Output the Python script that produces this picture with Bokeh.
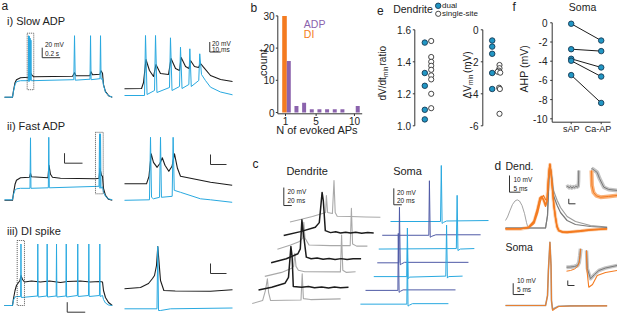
import numpy as np
from bokeh.plotting import figure
from bokeh.models import Range1d
from bokeh.core.properties import value
from bokeh.embed import file_html
from bokeh.resources import INLINE

W, H = 617, 313
FONT = value("Liberation Sans")

# ---------------- data: panel b (histogram) ----------------
b_n_adp = [1, 2, 3, 4, 5, 6, 7, 8, 10]
b_count_adp = [16, 2, 3, 1, 1, 1, 1, 1, 2]
b_n_di = [1]
b_count_di = [30]
b_yticks = [0, 10, 20, 30]
b_xticks = [1, 5, 10]

# ---------------- data: panel e ----------------
e_ratio_dual = [1.52, 1.33, 1.25, 1.10, 1.04]
e_ratio_single = [1.53, 1.43, 1.40, 1.375, 1.35, 1.315, 1.29, 1.20, 1.11]
e_dv_dual = [-0.67, -1.05, -1.5, -2.7, -3.7]
e_dv_single = [-2.2, -2.4, -2.55, -2.62, -2.68, -3.62, -3.7, -5.25]
e_dv_single_x = [2.0, 2.0, 1.9, 1.75, 2.1, 1.95, 2.05, 2.0]
e_ratio_ticks = [1.0, 1.2, 1.4, 1.6]
e_dv_ticks = [0, -2, -4, -6]

# ---------------- data: panel f ----------------
f_sap = [-0.1, -2.75, -3.75, -3.95, -5.45]
f_caap = [-1.85, -2.95, -4.65, -5.6, -8.35]
f_yticks = [0, -2, -4, -6, -8, -10]
f_cats = ["sAP", "Ca-AP"]

# ---------------- data: panel a traces (ms, mV) ----------------
ai_l_black_t = [0, 89, 100, 117, 133, 178, 267, 278, 300, 322, 756, 778, 794, 950, 961, 978, 1061, 1072, 1089, 1100, 1122, 1156, 1197]
ai_l_black_v = [-70, -70, -57, -41, -35, -31, -30, -17, -25, -29, -28, -21, -27, -27, -19, -25, -24, -17, -22, -45, -59, -67, -70]
ai_l_blue_t = [0, 89, 100, 117, 133, 178, 264, 268, 272, 276, 280, 285, 289, 294, 298, 770, 778, 786, 950, 956, 962, 1061, 1067, 1073, 1089, 1100, 1122, 1156, 1197]
ai_l_blue_v = [-70, -70, -58, -45, -39, -37, -37, 53, -39, 52, -37, 48, -36, 44, -37, -35, 53, -36, -34, 53, -35, -33, 53, -34, -33, -46, -60, -67, -70]
ai_r_black_t = [0, 15.5, 17.3, 19.5, 22.7, 26.4, 28.6, 32.7, 40, 42.3, 46.4, 50, 51.5, 55.5, 58.6, 60, 63.6, 67.3, 69.1, 71.8, 78.2, 87.3, 98.2]
ai_r_black_v = [-53, -52.6, -40.6, 5.4, -16.6, -28.6, -4.6, -22.6, -24.6, 7.4, -12.6, -16.6, 9.4, -8.6, -12.6, 3.4, -8.6, -10.6, -2.6, -10, -26.6, -34.6, -38.6]
ai_r_blue_t = [0, 18.2, 19.1, 20.5, 27.3, 28.2, 29.5, 40.9, 41.8, 43.2, 50, 50.9, 52.3, 58.5, 59.4, 60.7, 67.5, 68.4, 70, 73.6, 78.2, 87.3, 98.2]
ai_r_blue_v = [-66.6, -66.6, 53.4, -64.6, -56.6, 53.4, -60.6, -50.6, 48.8, -56.6, -48.6, 30, -52.6, -44.6, 26.8, -48.6, -36.6, 16.8, -24.6, -36.6, -50, -59.6, -65.2]

aii_l_black_t = [0, 89, 100, 117, 133, 178, 278, 289, 300, 483, 494, 511, 533, 622, 1011, 1050, 1061, 1078, 1089, 1100, 1122, 1156, 1197]
aii_l_black_v = [-71, -71, -57, -39, -31, -26, -25, -17, -24, -26, -1, -19, -25, -27, -28, -27, -7, -21, -23, -47, -61, -69, -71]
aii_l_blue_t = [0, 89, 100, 117, 133, 178, 283, 289, 294, 487, 492, 498, 1050, 1056, 1061, 1067, 1072, 1089, 1100, 1122, 1156, 1197]
aii_l_blue_v = [-70, -70, -59, -51, -48, -47, -47, 54, -47, -46, 55, -46, -43, 62, -47, 62, -47, -44, -55, -63, -68, -70]
aii_r_black_t = [0, 13.75, 15.3, 16.7, 18.1, 20.4, 22.2, 23.6, 25.3, 27.7, 29.7, 31.25, 33.1, 35, 47.5, 53.75, 67.3]
aii_r_black_v = [-38, -38, -23, 22, 5, -5, 3, 14, -1, -13, -3, 22, -7, -23, -31, -35, -41]
aii_r_blue_t = [0, 15.6, 16.25, 16.9, 18.1, 21.9, 22.5, 23.1, 29.8, 30.4, 31.1, 35, 47.5, 53.75, 67.3]
aii_r_blue_v = [-71, -70, 55, -65, -68, -65, 55, -65, -63, 55, -51, -55, -68, -70, -75]

aiii_l_black_t = [0, 89, 100, 117, 133, 156, 172, 183, 200, 222, 300, 400, 500, 622, 700, 844, 950, 1061, 1089, 1100, 1122, 1156, 1197]
aiii_l_black_v = [-70, -70, -56, -40, -30, -24, -20, -10, -18, -23, -21, -23, -21, -24, -22, -21, -23, -22, -23, -40, -54, -64, -70]
aiii_l_blue_t = [0, 89, 100, 117, 133, 179, 183, 187, 366, 370, 374, 470, 474, 478, 574, 578, 582, 682, 686, 690,
                 810, 814, 818, 933, 937, 941, 1055, 1059, 1063, 1089, 1100, 1122, 1156, 1197]
aiii_l_blue_v = [-70, -70, -59, -53, -52, -52, 53, -54, -51, 53, -53, -51, 53, -53, -51, 53, -53, -51, 53, -53,
                 -50, 53, -52, -50, 53, -52, -50, 53, -52, -50, -58, -65, -69, -70]
aiii_r_black_t = [0, 10, 15, 17.5, 18.75, 20, 20.8, 21.6, 22.5, 24.6, 31.7, 53.75, 67.5]
aiii_r_black_v = [-36.6, -34, -26, -16, -10, 10, 48, 16, -20, -40, -41, -41.4, -38.6]
aiii_r_blue_t = [0, 20.3, 20.8, 21.25, 22.5, 28.75, 67.5]
aiii_r_blue_v = [-76.6, -76.6, 48, -80, -80, -76.6, -75]

# ---------------- data: panel c traces (ms, mV rel. to start) ----------------
c_g1_t = [0, 26, 56, 79, 89, 91, 94, 106, 110, 113, 118, 151, 189, 226]
c_g1_v = [0, 2.8, 6.1, 9.1, 10.5, 29.4, 10.5, 9.4, 46, 10.5, 6.4, 6.1, 5.6, 5.3]
c_b1_t = [0, 42, 79, 89, 96, 99, 104, 117, 130, 142, 155, 167, 180, 195, 210, 225]
c_b1_v = [0, 4.4, 9.2, 14.4, 48, 39, 5.5, 3.3, 4.2, 2.8, 3.8, 2.9, 3.6, 2.7, 3.5, 3.0]
c_g2_t = [0, 33, 54, 63, 66, 69, 79, 133, 182, 185, 188, 198, 225]
c_g2_v = [0, 4.6, 8.2, 12.3, 30, 12.3, 4.6, 4, 4, 45.3, 5.7, 3.4, 3.4]
c_b2_t = [0, 38, 67, 73, 77, 80, 88, 100, 115, 130, 145, 160, 175, 190, 205, 225]
c_b2_v = [0, 4.4, 10, 15.5, 47.7, 35.5, 6.3, 4.4, 5.2, 3.8, 4.8, 3.6, 4.6, 3.7, 4.5, 4.4]
c_g3_t = [0, 42, 67, 72, 75, 78, 84, 100, 189, 192, 195, 204, 227]
c_g3_v = [0, 4.4, 8.9, 11.1, 25.5, 11.1, 6.7, 5.2, 5, 45.8, 6.7, 4.4, 5.2]
c_b3_t = [0, 33, 66, 75, 81, 84, 87, 108, 125, 140, 158, 175, 190, 205, 225]
c_b3_v = [0, 3, 7.4, 14.1, 48.2, 37.4, 3.8, 3, 3.8, 2.4, 3.2, 2.2, 3.4, 2.5, 3]
c_g4_t = [0, 26, 33, 38, 41, 46, 122, 125, 128, 146, 221]
c_g4_v = [0, 3.3, 14.4, 27.4, 12.2, 3.3, 3.9, 33, 5.5, 4.4, 5.2]

c_s1_t = [0, 125, 127, 129, 132, 140, 245]
c_s1_v = [0, 0, 68.3, -2.4, -1.2, 0.6, 1.2]
c_s2_t = [-4, 112.5, 114, 116, 120, 130, 242]
c_s2_v = [0, 0, 66.5, -2.4, -1.2, 0.6, 0.6]
c_s3_t = [4, 198, 200, 202, 208, 243]
c_s3_v = [0, 0.6, 65.5, -1.8, 0, 0.6]
c_s4_t = [17, 71, 72.5, 74.5, 78, 85, 245]
c_s4_v = [0, 0, 67.7, -2.4, -1.2, 0.6, 0.6]
c_s5_t = [25, 107.5, 109, 111, 115, 205, 207, 209, 212, 247]
c_s5_v = [0, 0, 59.2, -2.4, -0.6, 0.6, 62.8, -1.8, 0, 0.6]
c_s6_t = [21, 102, 103, 105, 108, 115, 246]
c_s6_v = [0, 0, 69.5, -2.4, -1.2, 0.6, 0.6]
c_s7_t = [25, 141, 142.5, 144, 147.5, 155, 245]
c_s7_v = [0, 0, 68, -2.4, -1.2, 0.6, 0.6]

# ---------------- data: panel d traces (ms, mV) ----------------
d_bump_t = [0, 0.91, 2.05, 3.18, 4.32, 5.32, 6.36, 7.5, 8.64, 9.55, 10.23]
d_bump_v = [4.8, 6.9, 10.8, 14.4, 16.5, 17.2, 16.5, 13.8, 9, 3.6, 0.4]
d_gray_t = [0, 18.2, 19.1, 19.7, 20.2, 20.9, 21.8, 23.5, 25, 28, 31.8, 38.6, 46.2]
d_gray1_v = [0.3, 0.3, 7.8, 28.8, 37.8, 31.8, 19.8, 13.8, 9.6, 4.8, 2.4, 1.2, 0.6]
d_gray2_v = [0.3, 0.3, 7.8, 28.8, 37.8, 32.5, 22.8, 16.8, 12.6, 7.2, 4.2, 1.8, 0.9]
d_or_t = [0, 6.8, 10.5, 12.9, 14.5, 15.7, 16.4, 17.3, 18.2, 18.9, 19.3, 19.8, 20.2, 20.7, 21.4, 22, 22.7, 23.4, 24.2, 25.9, 28, 34.1, 38.6, 46.2]
d_or1_v = [-0.3, -0.3, 0.6, 3.8, 10.8, 18, 18.9, 17.4, 14.4, 16.8, 25.8, 34.8, 38.4, 33.6, 22.8, 13.8, 6.8, 1.2, -1.2, -2.1, -2.2, -1.5, -0.8, -0.2]
d_or2_v = [-0.2, -0.3, 0.8, 4.5, 12, 18.6, 19.2, 16.8, 13.2, 16.2, 25.2, 34.2, 38.4, 33, 22.2, 13.2, 6.2, 0.8, -1.5, -2.4, -2.5, -1.8, -1, -0.3]
d_or3_v = [-0.1, 0, 0.4, 3, 9, 15.6, 18.6, 19.8, 17.4, 17, 25.8, 34.8, 38.8, 33.6, 23.4, 14.4, 7.4, 1.6, -0.9, -1.8, -2, -1.3, -0.7, 0]
d_di1_t = [0, 0.2, 0.4, 0.6, 0.8, 1.0, 1.2, 1.4, 1.6, 1.75, 1.8, 1.83]
d_di1_v = [0, 0.4, -0.3, 0.3, -0.4, 0.2, -0.2, 0.4, 0, 0.3, 2.5, 6.7]
d_di2_or_t = [0.15, 0.22, 0.45, 0.9, 1.5, 2.7, 4.0]
d_di2_or_v = [10.7, 4.7, 1.9, 0.5, 0, 0.3, 0.7]
d_di2_gr_t = [0.15, 0.3, 0.6, 1.0, 1.34, 1.99, 2.7, 4.0]
d_di2_gr_v = [11.5, 11.3, 10.7, 9.9, 7.5, 4, 3.1, 2.7]
d_soma_t = [0, 18.2, 19.1, 19.5, 20.2, 20.7, 20.9, 21.4, 22.3, 24.1, 29.5, 46.2]
d_soma_or_v = [0, 0, 8.8, 31, 56, 35.4, 4.4, -4.4, -3.1, -0.9, -0.4, -0.3]
d_soma_gr_v = [0, 0, 8.8, 31, 56, 35.4, 4.4, -3.5, -2.4, -0.7, -0.3, -0.2]
d_si1_gr_t = [0, 0.6, 1.2, 1.64, 1.87, 2.01, 2.12]
d_si1_gr_v = [1.6, 1.68, 1.88, 2.28, 3.48, 6.28, 8.96]
d_si1_or_t = [0, 0.6, 1.2, 1.64, 1.87, 1.99, 2.09]
d_si1_or_v = [0, 0.28, 0.88, 1.88, 3.28, 5.08, 8.96]
d_si2_or_t = [0, 0.07, 0.34, 0.9, 1.6, 2.84, 4.58]
d_si2_or_v = [8, 0, -6.7, -5.6, -2, -0.8, 0]
d_si2_gr_t = [0, 0.12, 0.6, 1.19, 1.84, 2.84, 4.58]
d_si2_gr_v = [8, 0.8, -3.3, -1.6, 0, 1, 2]

# ---------------- styles ----------------
BLUE = "#29a9e0"
BLACK = "#1c1c1c"
GRAYC = "#a9a9a9"
SDARK = "#4f5aa6"
ORANGE = "#f47b20"
PURPLE = "#8b63ad"
DOTF = "#2196c4"
DOTL = "#163a55"
AX = "#333333"

p = figure(width=W, height=H, x_range=Range1d(0, W), y_range=Range1d(H, 0),
           output_backend="svg", toolbar_location=None,
           x_axis_location=None, y_axis_location=None, min_border=0,
           outline_line_color=None, background_fill_color="white",
           border_fill_color="white")
p.grid.visible = False

XR, YR = {}, {}


class Panel:
    def __init__(self, name, px0, u0, sx, py0, v0, sy):
        self.n, self.px0, self.u0, self.sx = name, px0, u0, sx
        self.py0, self.v0, self.sy = py0, v0, sy
        XR[name] = Range1d(u0 - px0 / sx, u0 + (W - px0) / sx)
        YR[name] = Range1d(v0 + (py0 - H) / sy, v0 + py0 / sy)

    def ux(self, px):
        return self.u0 + (px - self.px0) / self.sx

    def uy(self, py):
        return self.v0 + (self.py0 - py) / self.sy

    @property
    def kw(self):
        return dict(x_range_name=self.n, y_range_name=self.n)


def txt(x, y, s, size, align="left", color="#222222", angle=0.0, baseline="middle", P=None):
    kw = P.kw if P is not None else {}
    xs = x if isinstance(x, list) else [x]
    ys = y if isinstance(y, list) else [y]
    ss = s if isinstance(s, list) else [s]
    p.text(x=xs, y=ys, text=ss, text_font=FONT, text_font_size=size,
           text_align=align, text_baseline=baseline, text_color=color,
           angle=angle, **kw)


def trace(P, t, v, color, width=1.0, alpha=1.0, dt=0.0, dv=0.0):
    p.line(x=[a + dt for a in t], y=[b + dv for b in v], line_color=color,
           line_width=width, line_alpha=alpha, line_join="round", **P.kw)


def scalebar(P, t, v, dt, dv, color=AX):
    p.line(x=[t, t, t + dt], y=[v + dv, v, v], line_color=color, line_width=1, **P.kw)


def dotbox(P, t0, t1, v0, v1):
    p.quad(left=[t0], right=[t1], bottom=[v0], top=[v1], fill_color=None,
           line_color="#444444", line_dash="1 1", line_width=0.9, **P.kw)


# ---------------- panel a ----------------
Pail = Panel("ail", 4, 0, 0.09, 96.7, -70, 0.5)
Pair = Panel("air", 124, 0, 1.1, 96.7, -70, 0.5)
Paiil = Panel("aiil", 4, 0, 0.09, 199.3, -70, 0.5)
Paiir = Panel("aiir", 124, 0, 1.6, 199.3, -70, 0.5)
Paiiil = Panel("aiiil", 4, 0, 0.09, 305, -70, 0.5)
Paiiir = Panel("aiiir", 124, 0, 1.6, 305, -70, 0.5)

for P, tb, vb, tl, vl in [
    (Pail, ai_l_black_t, ai_l_black_v, ai_l_blue_t, ai_l_blue_v),
    (Pair, ai_r_black_t, ai_r_black_v, ai_r_blue_t, ai_r_blue_v),
    (Paiil, aii_l_black_t, aii_l_black_v, aii_l_blue_t, aii_l_blue_v),
    (Paiir, aii_r_black_t, aii_r_black_v, aii_r_blue_t, aii_r_blue_v),
    (Paiiil, aiii_l_black_t, aiii_l_black_v, aiii_l_blue_t, aiii_l_blue_v),
    (Paiiir, aiii_r_black_t, aiii_r_black_v, aiii_r_blue_t, aiii_r_blue_v),
]:
    trace(P, tb, vb, BLACK, 1.1)
    trace(P, tl, vl, BLUE, 1.0)

dotbox(Pail, 252, 325, -55, 58)
dotbox(Paiil, 1011, 1097, -58, 65)
dotbox(Paiiil, 141, 222, -70, 60)

scalebar(Pail, 419, 9, 200, 20)
scalebar(Pair, 77.5, 20.4, 10, 20)
scalebar(Paiil, 667, 3.2, 200, 20)
scalebar(Paiir, 53.75, 0.6, 10, 20)
scalebar(Paiiil, 697, -83.4, 200, 20)
scalebar(Paiiir, 53.75, -6, 10, 20)

txt(1, 5, "a", "12px")
txt(6.5, 20, "i) Slow ADP", "11px")
txt(6.5, 125, "ii) Fast ADP", "11px")
txt(6.5, 230, "iii) DI spike", "11px")
txt(44.5, 43.5, "20 mV", "6.5px")
txt(44.5, 52.5, "0.2 s", "6.5px")
txt(211.5, 42.5, "20 mV", "6.5px")
txt(211.5, 49, "10 ms", "6.5px")

# ---------------- panel b ----------------
Pb = Panel("b", 285, 1, 7.66, 112, 0, 3.22)
p.vbar(x=[n - 0.13 for n in b_n_di], top=b_count_di, bottom=0, width=0.6,
       fill_color=ORANGE, line_color=None, **Pb.kw)
p.vbar(x=[n + 0.43 for n in b_n_adp], top=b_count_adp, bottom=0, width=0.52,
       fill_color=PURPLE, line_color=None, **Pb.kw)
bx0 = Pb.ux(277.3)
bxa = Pb.uy(113.3)
p.line(x=[bx0, bx0], y=[30, bxa], line_color=AX, line_width=1, **Pb.kw)
p.line(x=[bx0, Pb.ux(361.7)], y=[bxa, bxa], line_color=AX, line_width=1, **Pb.kw)
p.segment(x0=[bx0] * 4, y0=b_yticks, x1=[Pb.ux(275.3)] * 4, y1=b_yticks, line_color=AX, **Pb.kw)
p.segment(x0=b_xticks, y0=[bxa] * 3, x1=b_xticks, y1=[Pb.uy(115.5)] * 3, line_color=AX, **Pb.kw)
txt([Pb.ux(274)] * 4, b_yticks, [str(v) for v in b_yticks], "10px", align="right", P=Pb)
txt(b_xticks, [Pb.uy(120.5)] * 3, [str(v) for v in b_xticks], "10px", align="center", P=Pb)
txt(250, 7, "b", "12px")
txt(316.7, 129, "N of evoked APs", "11px", align="center")
txt(262.5, 62, "count", "11px", align="center", angle=np.pi / 2)
txt(303.3, 23, "ADP", "10.5px", color=PURPLE)
txt(303.3, 33.5, "DI", "10.5px", color=ORANGE)

# ---------------- panel e ----------------
Pe1 = Panel("e1", 424.3, 1, 6.4, 125.3, 1.0, 160)
Pe2 = Panel("e2", 491.7, 1, 7.3, 29.3, 0, 16)
ex1 = Pe1.ux(414.3)
p.line(x=[ex1, ex1], y=[1.6, 1.0], line_color=AX, line_width=1, **Pe1.kw)
p.segment(x0=[ex1] * 4, y0=e_ratio_ticks, x1=[Pe1.ux(412.3)] * 4, y1=e_ratio_ticks, line_color=AX, **Pe1.kw)
txt([Pe1.ux(410.5)] * 4, e_ratio_ticks, ["%.1f" % v for v in e_ratio_ticks], "10px", align="right", P=Pe1)
p.scatter(x=[1] * len(e_ratio_dual), y=e_ratio_dual, size=5.5, fill_color=DOTF, line_color=DOTL, line_width=0.9, **Pe1.kw)
p.scatter(x=[2] * len(e_ratio_single), y=e_ratio_single, size=5.2, fill_color="white", line_color="#333333", line_width=0.9, **Pe1.kw)

ex2 = Pe2.ux(482.3)
p.line(x=[ex2, ex2], y=[0, -6], line_color=AX, line_width=1, **Pe2.kw)
p.segment(x0=[ex2] * 4, y0=e_dv_ticks, x1=[Pe2.ux(480.3)] * 4, y1=e_dv_ticks, line_color=AX, **Pe2.kw)
txt([Pe2.ux(478)] * 4, e_dv_ticks, [str(v) for v in e_dv_ticks], "10px", align="right", P=Pe2)
p.scatter(x=e_dv_single_x, y=e_dv_single, size=5.2, fill_color="white", line_color="#333333", line_width=0.9, **Pe2.kw)
p.scatter(x=[1] * len(e_dv_dual), y=e_dv_dual, size=5.5, fill_color=DOTF, line_color=DOTL, line_width=0.9, **Pe2.kw)

txt(376.5, 10, "e", "12px")
txt(412.5, 8, "Dendrite", "10.5px", align="center")
p.scatter(x=[437.7], y=[5.3], size=5.5, fill_color=DOTF, line_color=DOTL, line_width=0.9)
p.scatter(x=[437.7], y=[13.3], size=5.2, fill_color="white", line_color="#333333", line_width=0.9)
txt(441.5, 5.3, "dual", "8px")
txt(441.5, 13.3, "single-site", "8px")
# rotated axis labels with subscript
txt(382, 100, "dV/dt", "10px", angle=np.pi / 2)
txt(385, 76.5, "min", "6.5px", angle=np.pi / 2)
txt(382, 65, "ratio", "10px", angle=np.pi / 2)
txt(466.5, 98, "\u0394V", "10px", angle=np.pi / 2)
txt(469.5, 84.5, "min", "6.5px", angle=np.pi / 2)
txt(466.5, 72.5, "(mV)", "10px", angle=np.pi / 2)

# ---------------- panel f ----------------
Pf = Panel("f", 570.7, 1, 30, 22.3, 0, 9.6)
fx0 = Pf.ux(551.7)
fya = Pf.uy(121.7)
p.line(x=[fx0, fx0], y=[0, fya], line_color=AX, line_width=1, **Pf.kw)
p.line(x=[fx0, Pf.ux(610)], y=[fya, fya], line_color=AX, line_width=1, **Pf.kw)
p.segment(x0=[fx0] * 6, y0=f_yticks, x1=[Pf.ux(549.7)] * 6, y1=f_yticks, line_color=AX, **Pf.kw)
p.segment(x0=[1, 2], y0=[fya] * 2, x1=[1, 2], y1=[Pf.uy(123.7)] * 2, line_color=AX, **Pf.kw)
txt([Pf.ux(547)] * 6, f_yticks, [str(v) for v in f_yticks], "10px", align="right", P=Pf)
txt([1, 1.89], [Pf.uy(128.5)] * 2, f_cats, "9px", align="center", P=Pf)
p.segment(x0=[1] * 5, y0=f_sap, x1=[2] * 5, y1=f_caap, line_color=BLACK, line_width=1, **Pf.kw)
p.scatter(x=[1] * 5, y=f_sap, size=5.5, fill_color=DOTF, line_color=DOTL, line_width=0.9, **Pf.kw)
p.scatter(x=[2] * 5, y=f_caap, size=5.5, fill_color=DOTF, line_color=DOTL, line_width=0.9, **Pf.kw)
txt(512, 6, "f", "12px")
txt(582, 6.5, "Soma", "10.5px", align="center")
txt(523.3, 68.3, "AHP (mV)", "10.5px", align="center", angle=np.pi / 2)

# ---------------- panel c ----------------
Pcd = Panel("cd", 289.5, 0, 0.4, 221.5, 0, 0.9)
Pcs = Panel("cs", 390, 0, 0.4, 221, 0, 0.82)
CD_DT, CD_DV = -15.75, -15.1
CS_DT, CS_DV = -16.7, -16.8
den = [(c_g1_t, c_g1_v, GRAYC), (c_b1_t, c_b1_v, BLACK), (c_g2_t, c_g2_v, GRAYC),
       (c_b2_t, c_b2_v, BLACK), (c_g3_t, c_g3_v, GRAYC), (c_b3_t, c_b3_v, BLACK),
       (c_g4_t, c_g4_v, GRAYC)]
for k, (t, v, col) in enumerate(den):
    if col == GRAYC:
        trace(Pcd, t, v, col, 1.1, dt=k * CD_DT, dv=k * CD_DV)
for k, (t, v, col) in enumerate(den):
    if col == BLACK:
        trace(Pcd, t, v, col, 1.5, dt=k * CD_DT, dv=k * CD_DV)
som = [(c_s1_t, c_s1_v), (c_s2_t, c_s2_v), (c_s3_t, c_s3_v), (c_s4_t, c_s4_v),
       (c_s5_t, c_s5_v), (c_s6_t, c_s6_v), (c_s7_t, c_s7_v)]
for k, (t, v) in enumerate(som):
    trace(Pcs, t, v, BLUE if k % 2 == 0 else SDARK, 1.0, dt=k * CS_DT, dv=k * CS_DV)
scalebar(Pcd, -15.5, 18.3, 20, 20)
scalebar(Pcs, 8.25, 20.4, 20, 20)
txt(252, 163, "c", "12px")
txt(306.7, 170, "Dendrite", "11px", align="center")
txt(407, 170, "Soma", "11px", align="center")
txt(287, 191, "20 mV", "6.5px")
txt(287, 200, "20 ms", "6.5px")
txt(396.5, 191.5, "20 mV", "6.5px")
txt(396.5, 200, "20 ms", "6.5px")

# ---------------- panel d ----------------
Pdd = Panel("dd", 505, 0, 2.2, 228, 0, 1.667)
Pds = Panel("ds", 505, 0, 2.2, 305, 0, 1.13)
Pdi1 = Panel("di1", 566, 0, 6.7, 186.7, 0, 2.5)
Pdi2 = Panel("di2", 590, 0, 6.7, 196.7, 0, 2.5)
Psi1 = Panel("si1", 566, 0, 6.7, 270.7, 0, 2.5)
Psi2 = Panel("si2", 586, 0, 6.7, 270, 0, 2.5)
GR1, GR2, GRB = "#7a7a7a", "#9c9c9c", "#c4c4c4"
ORB = "#f9b27a"

trace(Pdd, d_bump_t, d_bump_v, "#8c8c8c", 0.8)
trace(Pdd, d_or_t, d_or1_v, ORB, 3.5, alpha=0.6)
trace(Pdd, d_gray_t, d_gray2_v, GR2, 1.2)
trace(Pdd, d_gray_t, d_gray1_v, GR1, 1.2)
trace(Pdd, d_or_t, d_or2_v, ORANGE, 1.2)
trace(Pdd, d_or_t, d_or3_v, ORANGE, 1.2)
trace(Pdd, d_or_t, d_or1_v, ORANGE, 1.2)
trace(Pdi1, d_di1_t, d_di1_v, GRB, 3.5)
trace(Pdi1, d_di1_t, d_di1_v, GR1, 1.0)
trace(Pdi2, d_di2_gr_t, d_di2_gr_v, GRB, 4)
trace(Pdi2, d_di2_or_t, d_di2_or_v, ORB, 4)
trace(Pdi2, d_di2_gr_t, d_di2_gr_v, GR1, 1.0)
trace(Pdi2, d_di2_or_t, d_di2_or_v, ORANGE, 1.0)

trace(Pds, d_soma_t, d_soma_gr_v, GR2, 1.6)
trace(Pds, d_soma_t, d_soma_or_v, ORANGE, 1.1, alpha=0.85)
trace(Psi1, d_si1_gr_t, d_si1_gr_v, GRB, 4)
trace(Psi1, d_si1_gr_t, d_si1_gr_v, GR1, 1.0)
trace(Psi1, d_si1_or_t, d_si1_or_v, ORANGE, 1.0)
trace(Psi2, d_si2_gr_t, d_si2_gr_v, GRB, 3.5)
trace(Psi2, d_si2_gr_t, d_si2_gr_v, GR1, 1.0)
trace(Psi2, d_si2_or_t, d_si2_or_v, ORANGE, 1.1)

scalebar(Pdd, 1.82, 21.8, 5, 10)
scalebar(Pds, 3.5, 9.7, 5, 10)
scalebar(Pdi1, 0.34, -6.64, 1, 2)
scalebar(Psi1, 0.19, -5.72, 1, 2)
txt(494, 165, "d", "12px")
txt(505, 165, "Dend.", "10.5px")
txt(505, 246.7, "Soma", "10.5px")
txt(513, 178.5, "10 mV", "6.5px")
txt(513, 187.5, "5 ms", "6.5px")
txt(516.5, 279.5, "10 mV", "6.5px")
txt(516.5, 289, "5 ms", "6.5px")

p.extra_x_ranges = XR
p.extra_y_ranges = YR

open("out.html", "w").write(file_html(p, INLINE))
